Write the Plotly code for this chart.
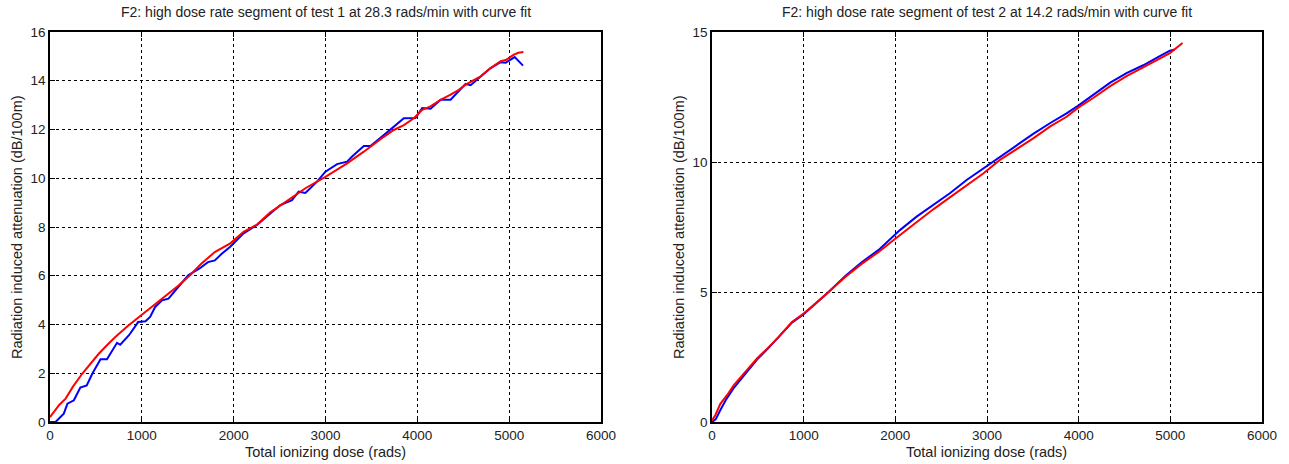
import plotly.graph_objects as go

# ---- data ----
t1_meas_x = [0, 60, 150, 190, 260, 330, 400, 460, 550, 620, 730, 765, 860, 960, 1040, 1090, 1145, 1220,
             1290, 1415, 1505, 1625, 1720, 1795, 1870, 1963, 2040, 2108, 2254, 2399, 2508, 2635, 2708,
             2781, 2908, 2999, 3053, 3126, 3235, 3290, 3417, 3490, 3635, 3744, 3853, 3980, 4053, 4144,
             4253, 4362, 4453, 4526, 4580, 4689, 4798, 4907, 4962, 5060, 5151]
t1_meas_y = [0.0, 0.0, 0.34, 0.75, 0.89, 1.41, 1.50, 1.98, 2.57, 2.57, 3.25, 3.17, 3.56, 4.10, 4.13, 4.31,
             4.72, 4.99, 5.06, 5.61, 6.02, 6.29, 6.56, 6.63, 6.90, 7.19, 7.50, 7.74, 8.08, 8.56, 8.90,
             9.10, 9.45, 9.40, 9.86, 10.27, 10.41, 10.58, 10.68, 10.89, 11.32, 11.32, 11.77, 12.12, 12.46,
             12.47, 12.88, 12.85, 13.22, 13.22, 13.57, 13.87, 13.82, 14.18, 14.52, 14.76, 14.74, 14.97, 14.62]

t1_fit_x = [0, 50, 100, 170, 250, 350, 450, 531, 620, 711, 850, 982, 1100, 1253, 1400, 1524, 1650, 1794,
            1963, 2108, 2254, 2399, 2550, 2781, 2999, 3126, 3235, 3417, 3490, 3635, 3744, 3853, 3962,
            4053, 4144, 4253, 4362, 4453, 4526, 4689, 4798, 4907, 4962, 5052, 5100, 5155]
t1_fit_y = [0.20, 0.45, 0.70, 0.96, 1.45, 1.98, 2.45, 2.80, 3.15, 3.49, 3.95, 4.34, 4.70, 5.13, 5.60,
            6.02, 6.50, 6.97, 7.33, 7.80, 8.10, 8.60, 9.00, 9.59, 10.06, 10.34, 10.61, 11.09, 11.30,
            11.70, 11.98, 12.18, 12.46, 12.81, 12.95, 13.22, 13.43, 13.63, 13.84, 14.18, 14.52, 14.80,
            14.85, 15.07, 15.15, 15.18]

t2_meas_x = [0, 40, 90, 160, 236, 364, 491, 618, 727, 872, 1000, 1127, 1272, 1454, 1636, 1818, 1999,
             2050, 2232, 2414, 2595, 2778, 2959, 3141, 3323, 3504, 3686, 3868, 4000, 4158, 4340, 4522,
             4704, 4885, 4995, 5049]
t2_meas_y = [0.0, 0.10, 0.45, 0.90, 1.30, 1.85, 2.40, 2.85, 3.25, 3.82, 4.15, 4.55, 5.00, 5.62, 6.15,
             6.62, 7.20, 7.38, 7.90, 8.35, 8.80, 9.31, 9.76, 10.20, 10.65, 11.08, 11.49, 11.87, 12.18,
             12.59, 13.04, 13.42, 13.72, 14.07, 14.28, 14.33]

t2_fit_x = [0, 36, 91, 164, 236, 364, 491, 618, 727, 872, 1000, 1127, 1272, 1454, 1636, 1818, 1999,
            2232, 2414, 2595, 2778, 2959, 3141, 3323, 3504, 3686, 3868, 4000, 4158, 4340, 4522, 4704,
            4885, 4995, 5133]
t2_fit_y = [0.06, 0.26, 0.70, 1.03, 1.41, 1.92, 2.44, 2.88, 3.27, 3.85, 4.17, 4.55, 5.00, 5.58, 6.09,
            6.54, 7.05, 7.70, 8.18, 8.64, 9.12, 9.56, 10.08, 10.49, 10.91, 11.36, 11.74, 12.10, 12.46,
            12.91, 13.30, 13.64, 14.00, 14.19, 14.58]

x_ticks = [0, 1000, 2000, 3000, 4000, 5000, 6000]
y1_ticks = [0, 2, 4, 6, 8, 10, 12, 14, 16]
y2_ticks = [0, 5, 10, 15]

titles = ["F2: high dose rate segment of test 1 at 28.3 rads/min with curve fit",
          "F2: high dose rate segment of test 2 at 14.2 rads/min with curve fit"]
x_label = "Total ionizing dose (rads)"
y_label = "Radiation induced attenuation (dB/100m)"

FONT = "Liberation Sans, Arial, sans-serif"
W, H = 1289, 464
ML, MR, MT, MB = 50, 27, 32, 42
PW = W - ML - MR
dom1 = [0, 551 / PW]
dom2 = [662 / PW, 1]

fig = go.Figure()
line_blue = dict(color="#0000FF", width=2)
line_red = dict(color="#FF0000", width=2)
fig.add_trace(go.Scatter(x=t1_meas_x, y=t1_meas_y, mode="lines", line=line_blue, xaxis="x", yaxis="y"))
fig.add_trace(go.Scatter(x=t1_fit_x, y=t1_fit_y, mode="lines", line=line_red, xaxis="x", yaxis="y"))
fig.add_trace(go.Scatter(x=t2_meas_x, y=t2_meas_y, mode="lines", line=line_blue, xaxis="x2", yaxis="y2"))
fig.add_trace(go.Scatter(x=t2_fit_x, y=t2_fit_y, mode="lines", line=line_red, xaxis="x2", yaxis="y2"))

axis_common = dict(showline=True, linecolor="black", linewidth=1.5, mirror="ticks",
                   ticks="inside", ticklen=5, tickcolor="black", tickwidth=1,
                   showgrid=True, gridcolor="black", griddash="dot", gridwidth=1,
                   zeroline=False, tickfont=dict(family=FONT, size=13.5, color="#222"),
                   fixedrange=True)

fig.update_layout(
    width=W, height=H, margin=dict(l=ML, r=MR, t=MT, b=MB),
    paper_bgcolor="white", plot_bgcolor="white", showlegend=False,
    xaxis=dict(domain=dom1, range=[0, 6000], tickvals=x_ticks, anchor="y", **axis_common),
    yaxis=dict(domain=[0, 1], range=[0, 16], tickvals=y1_ticks, anchor="x", **axis_common),
    xaxis2=dict(domain=dom2, range=[0, 6000], tickvals=x_ticks, anchor="y2", **axis_common),
    yaxis2=dict(domain=[0, 1], range=[0, 15], tickvals=y2_ticks, anchor="x2", **axis_common),
)

ann_font = dict(family=FONT, size=14, color="#222")
for dom, title in zip([dom1, dom2], titles):
    cx = (dom[0] + dom[1]) / 2
    fig.add_annotation(text=title, x=cx, y=1, xref="paper", yref="paper", yshift=20,
                       showarrow=False, xanchor="center", yanchor="middle", font=ann_font)
    fig.add_annotation(text=x_label, x=cx, y=0, xref="paper", yref="paper", yshift=-30,
                       showarrow=False, xanchor="center", yanchor="middle",
                       font=dict(family=FONT, size=14.5, color="#222"))
    fig.add_annotation(text=y_label, x=dom[0], y=0.5, xref="paper", yref="paper", xshift=-33,
                       showarrow=False, xanchor="center", yanchor="middle", textangle=-90,
                       font=dict(family=FONT, size=14.5, color="#222"))

fig.write_html("out.html", config={"displayModeBar": False},
               post_script="document.body.style.margin='0';document.body.style.overflow='hidden';")
